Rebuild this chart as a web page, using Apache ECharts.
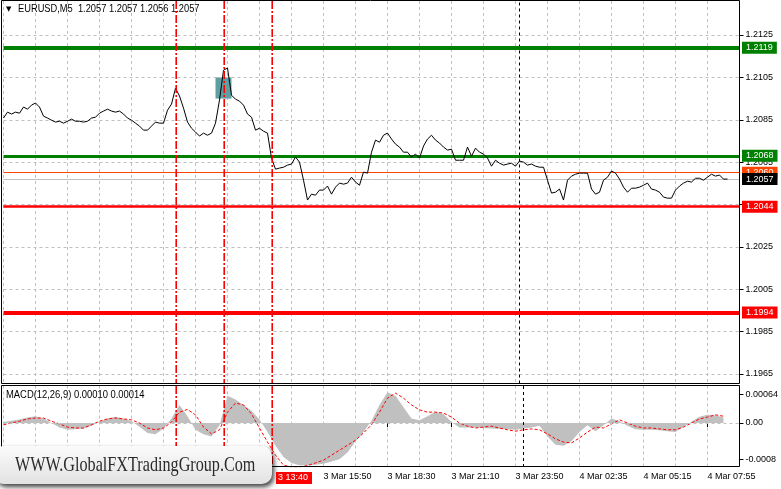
<!DOCTYPE html>
<html><head><meta charset="utf-8">
<script src="https://cdn.jsdelivr.net/npm/echarts@6/dist/echarts.min.js"></script>
<style>html,body{margin:0;padding:0;background:#fff}#c{width:781px;height:489px}</style>
</head><body><div id="c"></div>
<script>
// ---------- data ----------
const startDay = 3, startMinute = 2 * 60 + 30;   // first category: 3 Mar 02:30 (10-minute steps, one 5-min bar missing at rollover)
const categoryCount = 185;
const closes = [
 1.20858,1.20886,1.20877,1.20886,1.20881,1.20910,1.20900,1.20919,1.20929,1.20910,
 1.20867,1.20858,1.20848,1.20839,1.20843,1.20834,1.20843,1.20853,1.20843,1.20843,
 1.20839,1.20843,1.20858,1.20862,1.20881,1.20891,1.20900,1.20891,1.20886,1.20891,
 1.20877,1.20858,1.20848,1.20834,1.20820,1.20801,1.20801,1.20820,1.20839,1.20834,
 1.20834,1.20895,1.20924,1.20999,1.20962,1.20905,1.20839,1.20810,1.20792,1.20773,
 1.20787,1.20777,1.20787,1.20834,1.20943,1.21084,1.21094,1.20966,1.20947,1.20938,
 1.20919,1.20877,1.20862,1.20801,1.20810,1.20796,1.20787,1.20669,1.20617,1.20622,
 1.20626,1.20636,1.20641,1.20674,1.20650,1.20565,1.20471,1.20499,1.20494,1.20518,
 1.20518,1.20537,1.20499,1.20532,1.20551,1.20546,1.20551,1.20579,1.20556,1.20541,
 1.20603,1.20598,1.20697,1.20754,1.20744,1.20777,1.20787,1.20759,1.20735,1.20721,
 1.20697,1.20697,1.20674,1.20688,1.20669,1.20726,1.20759,1.20777,1.20754,1.20740,
 1.20721,1.20707,1.20711,1.20659,1.20659,1.20659,1.20721,1.20678,1.20716,1.20697,
 1.20688,1.20669,1.20631,1.20659,1.20645,1.20636,1.20641,1.20645,1.20631,1.20655,
 1.20650,1.20636,1.20641,1.20631,1.20626,1.20626,1.20565,1.20504,1.20508,1.20523,
 1.20471,1.20565,1.20584,1.20593,1.20598,1.20598,1.20598,1.20523,1.20499,1.20508,
 1.20565,1.20579,1.20608,1.20598,1.20570,1.20532,1.20508,1.20527,1.20527,1.20532,
 1.20541,1.20551,1.20523,1.20518,1.20508,1.20485,1.20480,1.20480,1.20518,1.20537,
 1.20551,1.20560,1.20556,1.20574,1.20574,1.20565,1.20579,1.20593,1.20584,1.20589,
 1.20570,1.20570
];
const macdHist = [
 0.00002,0.00005,0.00008,0.00012,0.00015,0.00010,0.00000,-0.00010,-0.00015,-0.00014,
 -0.00012,-0.00006,0.00003,0.00010,0.00014,0.00010,0.00004,-0.00008,-0.00022,-0.00025,
 -0.00012,0.00010,0.00040,0.00015,-0.00015,-0.00025,-0.00030,-0.00005,0.00060,0.00052,
 0.00040,0.00027,0.00008,-0.00020,-0.00050,-0.00075,-0.00088,-0.00093,-0.00093,-0.00092,
 -0.00090,-0.00085,-0.00080,-0.00065,-0.00040,-0.00020,0.00005,0.00040,0.00068,0.00060,
 0.00035,0.00010,0.00006,0.00015,0.00025,0.00020,0.00002,-0.00010,-0.00010,-0.00010,
 -0.00011,-0.00012,-0.00013,-0.00014,-0.00015,-0.00012,-0.00010,-0.00006,-0.00030,-0.00048,
 -0.00050,-0.00040,-0.00020,-0.00005,-0.00018,-0.00005,0.00010,0.00004,-0.00006,-0.00014,
 -0.00015,-0.00015,-0.00016,-0.00018,-0.00020,-0.00008,0.00003,0.00014,0.00018,0.00017,
 0.00012
];
const macdSignal = [
 -0.00004,0.00000,0.00004,0.00009,0.00011,0.00011,0.00004,-0.00002,-0.00009,-0.00011,
 -0.00011,-0.00004,0.00004,0.00009,0.00011,0.00009,0.00007,0.00000,-0.00011,-0.00015,
 -0.00011,0.00002,0.00024,0.00030,0.00018,-0.00009,-0.00024,-0.00015,0.00024,0.00044,
 0.00040,0.00020,-0.00011,-0.00042,-0.00071,-0.00093,-0.00097,-0.00097,-0.00094,-0.00088,
 -0.00082,-0.00071,-0.00060,-0.00049,-0.00038,-0.00022,-0.00004,0.00024,0.00055,0.00066,
 0.00055,0.00040,0.00029,0.00024,0.00024,0.00022,0.00013,0.00000,-0.00007,-0.00011,
 -0.00009,-0.00007,-0.00011,-0.00015,-0.00018,-0.00015,-0.00013,-0.00015,-0.00024,-0.00035,
 -0.00042,-0.00044,-0.00033,-0.00020,-0.00009,-0.00011,-0.00002,0.00007,0.00000,-0.00007,
 -0.00011,-0.00011,-0.00013,-0.00015,-0.00015,-0.00009,0.00000,0.00009,0.00013,0.00018,
 0.00015
];
const priceTicks = [1.2125, 1.2105, 1.2085, 1.2065, 1.2045, 1.2025, 1.2005, 1.1985, 1.1965];
const macdTicks = [0.00064, 0, -0.0008];
const macdTickLabels = ['0.00064', '0.00', '-0.0008'];
const timeTickLabels = ['3 Mar 15:50', '3 Mar 18:30', '3 Mar 21:10', '3 Mar 23:50', '4 Mar 02:35', '4 Mar 05:15', '4 Mar 07:55'];
const levelValues = [1.2119, 1.2068, 1.2060, 1.2044, 1.1994];
const bidPrice = 1.2057;
const eventTimes = ['3 Mar 09:40', '3 Mar 11:35', '3 Mar 13:40'];
const dayStartTime = '4 Mar 00:05';
const zoneTimes = ['3 Mar 11:15', '3 Mar 12:00'];
const zonePrices = [1.2105, 1.2095];
const titleText = 'EURUSD,M5  1.2057 1.2057 1.2056 1.2057';
const macdTitle = 'MACD(12,26,9) 0.00010 0.00014';
const eventLabel = '3 13:40';
const watermarkText = 'WWW.GlobalFXTradingGroup.Com';

// ---------- styles ----------
const levelColors = ['#008000', '#008000', '#ff4500', '#ff0000', '#ff0000'];
const levelWidths = [4, 3, 1.2, 2.5, 4];
const FONT = 'Liberation Sans';

// ---------- categories ----------
function pad(n) { return (n < 10 ? '0' : '') + n; }
const catMinutes = [];
const cats = [];
{
  let d = startDay, m = startMinute;
  for (let i = 0; i < categoryCount; i++) {
    cats.push(d + ' Mar ' + pad(Math.floor(m / 60)) + ':' + pad(m % 60));
    catMinutes.push((d - startDay) * 1440 + m);
    m += 10;
    if (m >= 1440) { m = m - 1440 + 5; d += 1; }
  }
}
const macdCats = cats.filter((_, i) => i % 2 === 0);
function toMin(t) {
  const p = t.split(' '); const hm = p[2].split(':');
  return (parseInt(p[0]) - startDay) * 1440 + parseInt(hm[0]) * 60 + parseInt(hm[1]);
}
function timeIdx(t) {
  const v = toMin(t);
  for (let k = 0; k < catMinutes.length - 1; k++) {
    if (v >= catMinutes[k] && v < catMinutes[k + 1]) return k + (v - catMinutes[k]) / (catMinutes[k + 1] - catMinutes[k]);
  }
  return catMinutes.length - 1;
}

const chart = echarts.init(document.getElementById('c'), null, { renderer: 'canvas' });
const gridLine = () => ({ color: '#c0c0c0', type: [3, 3], width: 1 });
const blackDash = () => ({ color: '#000000', type: [3, 3], width: 1 });
const PREC = 6;
const labelBox = (text, bg) => ({ show: true, position: 'end', distance: 2.5, formatter: text, color: '#fff', backgroundColor: bg,
  padding: [2, 4, 1, 4], fontSize: 9, fontFamily: FONT });

const levelData = levelValues.map((v, k) => ({ yAxis: v, lineStyle: { color: levelColors[k], width: levelWidths[k], type: 'solid' },
  label: labelBox(v.toFixed(4), levelColors[k]) }));
levelData.push({ yAxis: bidPrice, lineStyle: { color: '#c0c0c0', width: 1, type: 'solid' }, label: labelBox(bidPrice.toFixed(4), '#000') });

function vSeries(xi, yi, data, style, z) {
  return { type: 'line', xAxisIndex: xi, yAxisIndex: yi, data: [], z: z, silent: true,
    markLine: { silent: true, precision: PREC, symbol: ['none', 'none'], label: { show: false }, lineStyle: style,
      data: data.map(x => ({ xAxis: x })) } };
}
const evMain = eventTimes.map(t => timeIdx(t));

const option = {
  animation: false,
  backgroundColor: '#fff',
  textStyle: { fontFamily: FONT },
  grid: [
    { left: 3.5, right: 41.5, top: 1, height: 382.5, show: false },
    { left: 3.5, right: 41.5, top: 385.5, height: 81.5, show: false }
  ],
  xAxis: [
    { gridIndex: 0, type: 'category', data: cats, boundaryGap: false,
      axisLine: { show: false }, axisTick: { show: false }, axisLabel: { show: false },
      splitLine: { show: true, interval: 7, lineStyle: gridLine() } },
    { gridIndex: 1, type: 'category', data: macdCats, boundaryGap: false,
      axisLine: { show: false },
      axisTick: { show: true, length: 4, interval: (i, v) => timeTickLabels.includes(v), lineStyle: { color: '#000' } },
      axisLabel: { show: true, interval: (i, v) => timeTickLabels.includes(v), align: 'left', fontSize: 9, color: '#000', margin: 5, fontFamily: FONT },
      splitLine: { show: true, interval: 3, lineStyle: gridLine() } }
  ],
  yAxis: [
    { gridIndex: 0, type: 'value', position: 'right', min: 1.196052, max: 1.214105,
      axisLine: { show: false }, splitLine: { show: false },
      axisTick: { show: true, length: 4, customValues: priceTicks, lineStyle: { color: '#000' } },
      axisLabel: { show: true, customValues: priceTicks, formatter: v => v.toFixed(4), fontSize: 9, color: '#000', margin: 6, fontFamily: FONT } },
    { gridIndex: 1, type: 'value', position: 'right', min: -0.000971, max: 0.000828,
      axisLine: { show: false }, splitLine: { show: false },
      axisTick: { show: true, length: 4, customValues: macdTicks, lineStyle: { color: '#000' } },
      axisLabel: { show: true, customValues: macdTicks, fontSize: 9, color: '#000', margin: 6, fontFamily: FONT,
        formatter: v => { const k = macdTicks.findIndex(t => Math.abs(t - v) < 1e-9); return k >= 0 ? macdTickLabels[k] : ''; } } }
  ],
  series: [
    { type: 'line', xAxisIndex: 0, yAxisIndex: 0, data: [], z: 1, silent: true,
      markLine: { silent: true, precision: PREC, symbol: ['none', 'none'], label: { show: false }, lineStyle: gridLine(),
        data: priceTicks.map(v => ({ yAxis: v })) } },
    { type: 'line', xAxisIndex: 0, yAxisIndex: 0, data: [], z: 2, silent: true,
      markArea: { silent: true, precision: PREC, itemStyle: { color: '#5f9ea0', opacity: 1 },
        data: [[{ xAxis: timeIdx(zoneTimes[0]), yAxis: zonePrices[0] }, { xAxis: timeIdx(zoneTimes[1]), yAxis: zonePrices[1] }]] } },
    vSeries(0, 0, [timeIdx(dayStartTime)], blackDash(), 3),
    { type: 'line', xAxisIndex: 0, yAxisIndex: 0, data: [], z: 3, silent: true,
      markLine: { silent: true, precision: PREC, symbol: ['none', 'none'], data: levelData } },
    { type: 'line', xAxisIndex: 0, yAxisIndex: 0, data: closes, z: 5, showSymbol: false, symbol: 'none',
      lineStyle: { color: '#000', width: 1 } },
    { type: 'line', xAxisIndex: 1, yAxisIndex: 1, data: macdHist, z: 2, showSymbol: false, symbol: 'none',
      lineStyle: { width: 0 }, areaStyle: { color: '#c0c0c0', opacity: 1 },
      markLine: { silent: true, precision: PREC, symbol: ['none', 'none'], label: { show: false }, lineStyle: gridLine(),
        data: [{ yAxis: 0 }] } },
    vSeries(1, 1, [timeIdx(dayStartTime) / 2], blackDash(), 3),
    { type: 'line', xAxisIndex: 1, yAxisIndex: 1, data: macdSignal, z: 4, showSymbol: false, symbol: 'none',
      lineStyle: { color: '#ff0000', width: 1, type: [3, 2] } }
  ],
  graphic: [
    { type: 'rect', z: 50, silent: true, shape: { x: 1.5, y: 0.5, width: 738, height: 383 }, style: { fill: null, stroke: '#000', lineWidth: 1 } },
    { type: 'rect', z: 50, silent: true, shape: { x: 1.5, y: 385.5, width: 738, height: 81 }, style: { fill: null, stroke: '#000', lineWidth: 1 } },
    { type: 'text', z: 60, x: 6, y: 6, style: { text: '▼', font: '7px DejaVu Sans', fill: '#000' } },
    { type: 'text', z: 60, x: 18, y: 4, scaleX: 0.93, style: { text: titleText, font: '10px ' + FONT, fill: '#000' } },
    { type: 'text', z: 60, x: 6, y: 390, scaleX: 0.94, style: { text: macdTitle, font: '10px ' + FONT, fill: '#000' } },
    { type: 'rect', z: 100, shape: { x: -6, y: 446, width: 278, height: 38, r: 10 },
      style: { fill: new echarts.graphic.LinearGradient(0, 0, 0, 1, [{ offset: 0, color: '#fbfbfb' }, { offset: 1, color: '#e2e2e2' }]),
        shadowColor: 'rgba(0,0,0,0.75)', shadowBlur: 5, shadowOffsetX: 2, shadowOffsetY: 3 } },
    { type: 'text', z: 101, x: 15, y: 465, scaleX: 0.77,
      style: { text: watermarkText, font: '21px Liberation Serif', fill: '#2a2a2a', verticalAlign: 'middle',
        shadowColor: 'rgba(0,0,0,0.7)', shadowBlur: 3, shadowOffsetX: 1, shadowOffsetY: 2 } }
  ]
};
chart.setOption(option);

// vertical event lines (red dash-dot) across both panes, positioned through the category axis
const extra = [];
const evStyle = { stroke: '#ff0000', lineWidth: 1.6, lineDash: [8, 2, 2, 2] };
evMain.forEach(v => {
  const px = Math.round(chart.convertToPixel({ xAxisIndex: 0 }, v)) + 0.2;
  extra.push({ type: 'line', z: 40, silent: true, shape: { x1: px, y1: 1, x2: px, y2: 383 }, style: Object.assign({}, evStyle) });
  extra.push({ type: 'line', z: 40, silent: true, shape: { x1: px, y1: 386, x2: px, y2: 466 }, style: Object.assign({}, evStyle) });
});
const ev = Math.round(chart.convertToPixel({ xAxisIndex: 0 }, evMain[2]));
extra.push({ type: 'rect', z: 102, shape: { x: ev + 4, y: 472, width: 36, height: 12 }, style: { fill: '#ff0000' } });
extra.push({ type: 'text', z: 103, x: ev + 6, y: 473, style: { text: eventLabel, font: '9px ' + FONT, fill: '#fff' } });
chart.setOption({ graphic: option.graphic.concat(extra) });
</script>
</body></html>
